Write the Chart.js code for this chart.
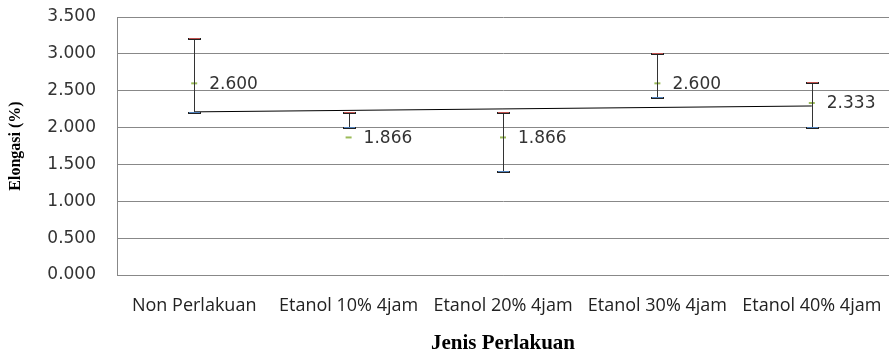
<!DOCTYPE html>
<html><head><meta charset="utf-8">
<script src="https://cdn.jsdelivr.net/npm/chart.js@4"></script>
<style>html,body{margin:0;padding:0;background:#fff}#wrap{width:889px;height:356px}</style>
</head><body><div id="wrap"><canvas id="c" width="889" height="356"></canvas></div>
<script>
const categories = ['Non Perlakuan', 'Etanol 10% 4jam', 'Etanol 20% 4jam', 'Etanol 30% 4jam', 'Etanol 40% 4jam'];
const closeValues = [2.600, 1.866, 1.866, 2.600, 2.333];
const highValues = [3.2, 2.2, 2.2, 3.0, 2.6];
const lowValues = [2.2, 2.0, 1.4, 2.4, 2.0];
const trendValues = [2.213, null, null, null, 2.293];
const yTicks = { min: 0, max: 3.5, step: 0.5 };

const fixArea = {
  id: 'fixArea',
  afterLayout(chart) {
    const R = chart.width;
    const a = chart.chartArea, x = chart.scales.x;
    if (a.right < R - 0.5) {
      a.right = R; a.width = R - a.left;
      x.right = R; x.width = R - x.left;
      x.configure();
    }
  }
};

const errorBars = {
  id: 'errorBars',
  afterDatasetsDraw(chart) {
    const {ctx, scales: {x, y}} = chart;
    ctx.save();
    categories.forEach((c, i) => {
      const px = Math.round(x.getPixelForValue(i)) + 0.5;
      const yh = Math.round(y.getPixelForValue(highValues[i]));
      const yl = Math.round(y.getPixelForValue(lowValues[i]));
      ctx.strokeStyle = '#333';
      ctx.lineWidth = 1;
      ctx.beginPath(); ctx.moveTo(px, yh); ctx.lineTo(px, yl); ctx.stroke();
      const w = 6.5;
      [[yh, '#c0504d'], [yl, '#4f81bd']].forEach(([yy, col]) => {
        ctx.fillStyle = '#222';
        ctx.fillRect(px - w, yy - 1, w * 2, 2);
        ctx.fillStyle = col;
        ctx.fillRect(px - w + 1, yy - 1, w * 2 - 2, 1);
      });
    });
    ctx.restore();
  }
};

const labelsPlugin = {
  id: 'valLabels',
  afterDatasetsDraw(chart) {
    const {ctx, scales: {x, y}} = chart;
    ctx.save();
    ctx.font = '17px "DejaVu Sans"';
    ctx.fillStyle = '#333';
    ctx.textAlign = 'left';
    ctx.textBaseline = 'middle';
    closeValues.forEach((v, i) => {
      ctx.fillText(v.toFixed(3), x.getPixelForValue(i) + 15, y.getPixelForValue(v) + 1);
    });
    ctx.restore();
  }
};

new Chart(document.getElementById('c'), {
  type: 'line',
  data: {
    labels: categories,
    datasets: [
      { data: trendValues, spanGaps: true, borderColor: '#000', borderWidth: 1, pointRadius: 0, order: 2 },
      { data: closeValues, showLine: false, pointStyle: 'line', pointRadius: 3, pointBorderWidth: 2, borderColor: '#9bbb59', pointBorderColor: '#9bbb59', order: 1 }
    ]
  },
  options: {
    responsive: false,
    animation: false,
    layout: { padding: { top: 17, right: 0, left: 0, bottom: 0 } },
    plugins: { legend: { display: false }, tooltip: { enabled: false } },
    scales: {
      x: {
        offset: true,
        grid: { display: false, drawTicks: false },
        border: { display: true, color: '#888', width: 1 },
        ticks: { color: '#222', font: { family: 'Open Sans', size: 18 }, padding: 20, maxRotation: 0, autoSkip: false },
        title: { display: true, text: 'Jenis Perlakuan', color: '#000', font: { family: 'Liberation Serif', size: 21, weight: 'bold' }, padding: { top: 0, bottom: 0 } },
        afterFit(s) { s.height = 81; s.paddingLeft = 0; s.paddingRight = 0; }
      },
      y: {
        min: yTicks.min, max: yTicks.max,
        grid: { color: '#888', drawTicks: false },
        border: { display: true, color: '#888', width: 1 },
        ticks: { stepSize: yTicks.step, color: '#333', font: { family: 'DejaVu Sans', size: 17 }, padding: 21, callback: v => Number(v).toFixed(3) },
        title: { display: true, text: 'Elongasi (%)', color: '#000', font: { family: 'Liberation Serif', size: 16, weight: 'bold' }, padding: { top: 6, bottom: 0 } },
        afterFit(s) { s.width = 117; s.paddingTop = 0; s.paddingBottom = 0; }
      }
    }
  },
  plugins: [fixArea, errorBars, labelsPlugin]
});
</script></body></html>
